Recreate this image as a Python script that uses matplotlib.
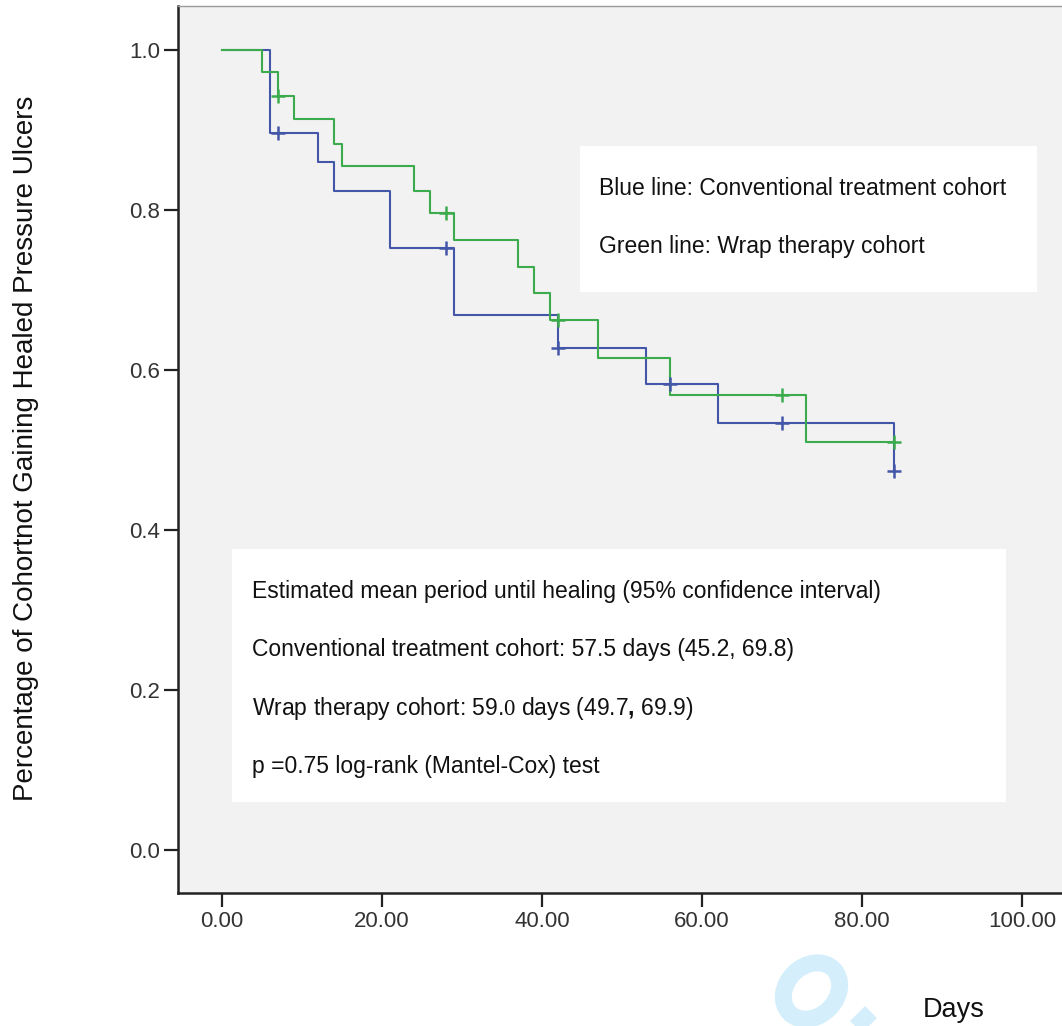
import matplotlib.pyplot as plt
from matplotlib.patches import Rectangle, Ellipse
from matplotlib.lines import Line2D
from matplotlib.transforms import IdentityTransform

plt.rcParams['font.family'] = ['Liberation Sans', 'DejaVu Sans']
plt.rcParams['mathtext.fontset'] = 'custom'
plt.rcParams['mathtext.rm'] = 'Liberation Serif'
plt.rcParams['mathtext.bf'] = 'Liberation Sans:bold'

# Kaplan-Meier steps
blue_days = [0, 6, 12, 14, 21, 29, 42, 53, 62, 84]
blue_surv = [1.0, 0.896, 0.860, 0.824, 0.752, 0.669, 0.628, 0.583, 0.534, 0.474]
blue_cens_days = [7, 28, 42, 56, 70, 84]
blue_cens_surv = [0.896, 0.752, 0.628, 0.583, 0.534, 0.474]

green_days = [0, 5, 7, 9, 14, 15, 24, 26, 29, 37, 39, 41, 47, 56, 73, 84]
green_surv = [1.0, 0.972, 0.943, 0.914, 0.883, 0.855, 0.824, 0.796, 0.762,
              0.729, 0.696, 0.662, 0.615, 0.569, 0.510, 0.510]
green_cens_days = [7, 28, 42, 70, 84]
green_cens_surv = [0.943, 0.796, 0.662, 0.569, 0.510]

x_ticks = [0, 20, 40, 60, 80, 100]
y_ticks = [0.0, 0.2, 0.4, 0.6, 0.8, 1.0]

legend_lines = ["Blue line: Conventional treatment cohort",
                "Green line: Wrap therapy cohort"]
stats_lines = ["Estimated mean period until healing (95% confidence interval)",
               "Conventional treatment cohort: 57.5 days (45.2, 69.8)",
               r"Wrap therapy cohort: 59.$\mathrm{0}$ days (49.7$\mathbf{,}$ 69.9)",
               "p =0.75 log-rank (Mantel-Cox) test"]

BLUE = '#4456a8'
GREEN = '#3cab4c'
WATERMARK = '#d4effb'

fig = plt.figure(figsize=(10.62, 10.26), dpi=100)
ax = fig.add_axes([0.1676, 0.1296, 0.84, 0.8645])
ax.set_facecolor('#f2f2f2')

ax.step(blue_days, blue_surv, where='post', color=BLUE, lw=1.5, zorder=3)
ax.step(green_days, green_surv, where='post', color=GREEN, lw=1.5, zorder=3)
ax.plot(blue_cens_days, blue_cens_surv, ls='none', marker='+', ms=10, mew=1.8,
        color=BLUE, zorder=4)
ax.plot(green_cens_days, green_cens_surv, ls='none', marker='+', ms=10, mew=1.8,
        color=GREEN, zorder=4)

ax.set_xlim(-5.5, 106)
ax.set_ylim(-0.05375, 1.055)
ax.set_xticks(x_ticks)
ax.set_xticklabels([f"{t:.2f}" for t in x_ticks])
ax.set_yticks(y_ticks)
ax.set_yticklabels([f"{t:.1f}" for t in y_ticks])
ax.tick_params(direction='out', length=10, width=1.6, color='#222222',
               labelsize=16, labelcolor='#333333', pad=3)

for side in ['left', 'bottom']:
    ax.spines[side].set_linewidth(1.8)
    ax.spines[side].set_color('#222222')
ax.spines['top'].set_linewidth(1.0)
ax.spines['top'].set_color('#9a9a9a')
ax.spines['right'].set_visible(False)

# white annotation boxes
fig.patches.append(Rectangle((0.5461, 0.7154), 0.4303, 0.1423, transform=fig.transFigure,
                             facecolor='white', edgecolor='none', zorder=2))
fig.patches.append(Rectangle((0.2185, 0.2183), 0.7288, 0.2466, transform=fig.transFigure,
                             facecolor='white', edgecolor='none', zorder=2))

for i, line in enumerate(legend_lines):
    fig.text(0.564, 0.8099 - i * 0.0565, line, fontsize=16.5, color='#111111', va='baseline')
for i, line in enumerate(stats_lines):
    fig.text(0.2373, 0.4172 - i * 0.0568, line, fontsize=16.5, color='#111111', va='baseline')

fig.text(0.012, 0.563, "Percentage of Cohortnot Gaining Healed Pressure Ulcers",
         rotation=90, fontsize=20, ha='left', va='center', color='#111111')
fig.text(0.898, 0.0088, "Days", fontsize=19.5, ha='center', va='baseline', color='#111111')

# faint journal watermark in the bottom corner (pixel coordinates)
fig.add_artist(Ellipse((811.5, 35), 62, 50, angle=45, transform=IdentityTransform(),
                       facecolor='none', edgecolor=WATERMARK, lw=12.2, zorder=0))
fig.add_artist(Line2D([871, 846], [14, -11], transform=IdentityTransform(),
                      color=WATERMARK, lw=12.2, solid_capstyle='butt', zorder=0))

fig.savefig('out.png', dpi=100)
